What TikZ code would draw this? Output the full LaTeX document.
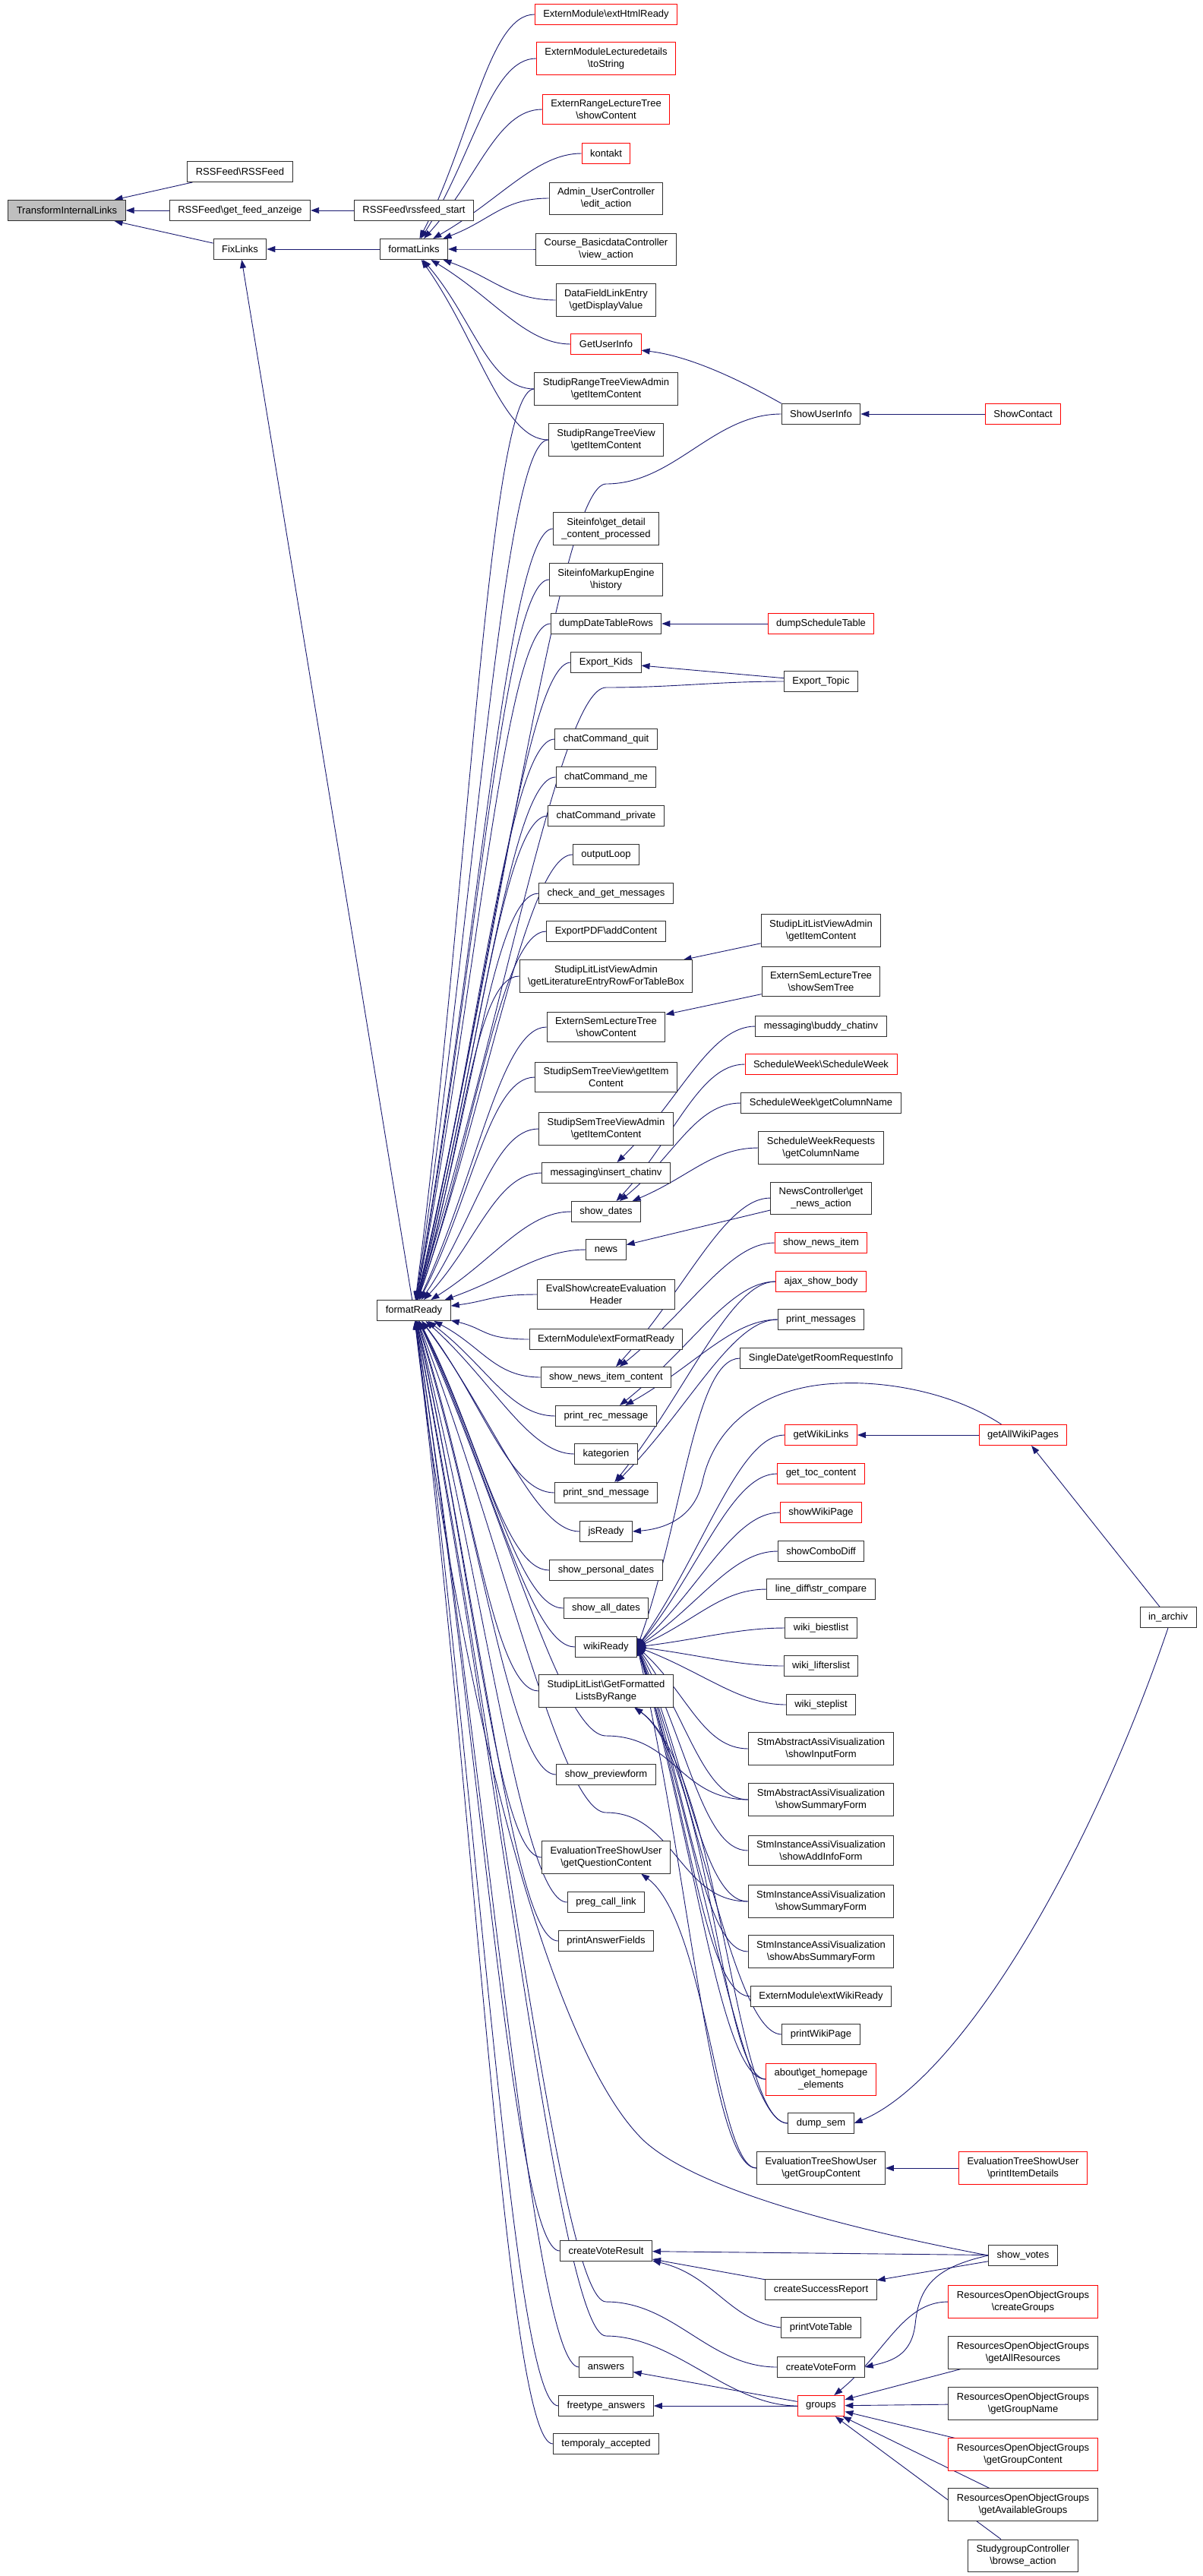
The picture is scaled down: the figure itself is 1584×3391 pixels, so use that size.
\documentclass[tikz,border=0pt]{standalone}
\usepackage{fontspec}
\setmainfont{Liberation Sans}
\usepackage{tikz}
\usetikzlibrary{arrows.meta, calc, backgrounds}
\definecolor{edgeblue}{RGB}{25, 25, 112}
\definecolor{boxgray}{RGB}{48, 48, 48}
\definecolor{rootgray}{RGB}{191, 191, 191}
\newcommand{\bs}{\textbackslash}
% caller -> callee, the arrow lands on the callee side facing the caller
\newcommand{\callto}[2]{%
  \draw[calledge] let \p1 = ($(#1.west)-(#2.center)$),
    \n1 = {int(mod(atan2(\y1,\x1)+360,360))} in
    (#1.west) .. controls +(-60,0) and ($(#2.\n1)!0.45!(#1.west)$) .. (#2.\n1);}
\newcommand{\calltoeast}[2]{%
  \draw[calledge] (#1.west) .. controls +(-60,0) and ($(#2.east)!0.45!(#1.west)$) .. (#2.east);}
% same, passing a gap of the rank in between
\newcommand{\callvia}[3]{%
  \draw[calledge] let \p1 = ($(#3)-(#2.center)$),
    \n1 = {int(mod(atan2(\y1,\x1)+360,360))} in
    (#1.west) .. controls +(-90,0) and +(90,0) .. (#3)
    .. controls +(-60,0) and ($(#2.\n1)!0.45!(#3)$) .. (#2.\n1);}

\begin{document}
\begin{tikzpicture}[x=1pt, y=1pt, >={Triangle[length=11pt,width=8pt]},
  fn/.style={draw=boxgray, fill=white, line width=1pt, align=center,
    font=\fontsize{13}{16}\selectfont, inner xsep=11pt, inner ysep=7pt,
    minimum height=27pt},
  fnroot/.style={fn, fill=rootgray},
  calledge/.style={->, draw=edgeblue, line width=0.9pt}]
  \useasboundingbox (0,0) rectangle (1584,-3391);

  \node[fnroot] (til) at (88,-277) {TransformInternalLinks};
  \node[fn] (rssfeed) at (316,-226) {RSSFeed\bs RSSFeed};
  \node[fn] (getfeed) at (316,-277) {RSSFeed\bs get\_feed\_anzeige};
  \node[fn] (fixlinks) at (316,-328) {FixLinks};
  \node[fn] (rssstart) at (545,-277) {RSSFeed\bs rssfeed\_start};
  \node[fn] (fl) at (545,-328) {formatLinks};
  \node[fn] (fr) at (545,-1725) {formatReady};

  \foreach \nm/\bc/\yy/\tx in {
    extHtml/red/19/{ExternModule\bs extHtmlReady},
    toString/red/77/{ExternModuleLecturedetails\\\bs toString},
    erltShow/red/144/{ExternRangeLectureTree\\\bs showContent},
    kontakt/red/202/{kontakt},
    adminEdit/boxgray/261/{Admin\_UserController\\\bs edit\_action},
    courseView/boxgray/328/{Course\_BasicdataController\\\bs view\_action},
    dfle/boxgray/395/{DataFieldLinkEntry\\\bs getDisplayValue},
    getUserInfo/red/453/{GetUserInfo},
    srtvAdmin/boxgray/512/{StudipRangeTreeViewAdmin\\\bs getItemContent},
    srtv/boxgray/579/{StudipRangeTreeView\\\bs getItemContent},
    siteinfo/boxgray/696/{Siteinfo\bs get\_detail\\\_content\_processed},
    sme/boxgray/763/{SiteinfoMarkupEngine\\\bs history},
    dumpRows/boxgray/821/{dumpDateTableRows},
    exportKids/boxgray/872/{Export\_Kids},
    chatQuit/boxgray/973/{chatCommand\_quit},
    chatMe/boxgray/1023/{chatCommand\_me},
    chatPrivate/boxgray/1074/{chatCommand\_private},
    outputLoop/boxgray/1125/{outputLoop},
    checkMsg/boxgray/1176/{check\_and\_get\_messages},
    pdfAdd/boxgray/1226/{ExportPDF\bs addContent},
    sllvaRow/boxgray/1285/{StudipLitListViewAdmin\\\bs getLiteratureEntryRowForTableBox},
    esltShow/boxgray/1352/{ExternSemLectureTree\\\bs showContent},
    sstvItem/boxgray/1418/{StudipSemTreeView\bs getItem\\Content},
    sstvAdmin/boxgray/1486/{StudipSemTreeViewAdmin\\\bs getItemContent},
    insertChat/boxgray/1544/{messaging\bs insert\_chatinv},
    showDates/boxgray/1595/{show\_dates},
    news/boxgray/1645/{news},
    evalHeader/boxgray/1704/{EvalShow\bs createEvaluation\\Header},
    extFormat/boxgray/1763/{ExternModule\bs extFormatReady},
    newsContent/boxgray/1813/{show\_news\_item\_content},
    printRec/boxgray/1864/{print\_rec\_message},
    kategorien/boxgray/1914/{kategorien},
    printSnd/boxgray/1965/{print\_snd\_message},
    jsReady/boxgray/2016/{jsReady},
    personalDates/boxgray/2067/{show\_personal\_dates},
    allDates/boxgray/2117/{show\_all\_dates},
    wikiReady/boxgray/2168/{wikiReady},
    litRange/boxgray/2226/{StudipLitList\bs GetFormatted\\ListsByRange},
    previewForm/boxgray/2336/{show\_previewform},
    questionContent/boxgray/2445/{EvaluationTreeShowUser\\\bs getQuestionContent},
    pregLink/boxgray/2504/{preg\_call\_link},
    answerFields/boxgray/2555/{printAnswerFields},
    voteResult/boxgray/2963/{createVoteResult},
    answers/boxgray/3116/{answers},
    freetype/boxgray/3167/{freetype\_answers},
    temporaly/boxgray/3217/{temporaly\_accepted}}
    \node[fn, draw=\bc] (\nm) at (798,-\yy) {\tx};

  \foreach \nm/\bc/\yy/\tx in {
    showUserInfo/boxgray/545/{ShowUserInfo},
    dumpSchedule/red/821/{dumpScheduleTable},
    exportTopic/boxgray/897/{Export\_Topic},
    sllvaItem/boxgray/1225/{StudipLitListViewAdmin\\\bs getItemContent},
    esltSemTree/boxgray/1292/{ExternSemLectureTree\\\bs showSemTree},
    buddyChat/boxgray/1351/{messaging\bs buddy\_chatinv},
    swSchedule/red/1401/{ScheduleWeek\bs ScheduleWeek},
    swColumn/boxgray/1452/{ScheduleWeek\bs getColumnName},
    swrColumn/boxgray/1511/{ScheduleWeekRequests\\\bs getColumnName},
    newsAction/boxgray/1577/{NewsController\bs get\\\_news\_action},
    showNewsItem/red/1636/{show\_news\_item},
    ajaxBody/red/1687/{ajax\_show\_body},
    printMsgs/boxgray/1737/{print\_messages},
    roomRequest/boxgray/1788/{SingleDate\bs getRoomRequestInfo},
    wikiLinks/red/1889/{getWikiLinks},
    tocContent/red/1940/{get\_toc\_content},
    showWikiPage/red/1991/{showWikiPage},
    comboDiff/boxgray/2042/{showComboDiff},
    strCompare/boxgray/2092/{line\_diff\bs str\_compare},
    biestlist/boxgray/2143/{wiki\_biestlist},
    lifterslist/boxgray/2193/{wiki\_lifterslist},
    steplist/boxgray/2244/{wiki\_steplist},
    saInput/boxgray/2302/{StmAbstractAssiVisualization\\\bs showInputForm},
    saSummary/boxgray/2369/{StmAbstractAssiVisualization\\\bs showSummaryForm},
    siAddInfo/boxgray/2436/{StmInstanceAssiVisualization\\\bs showAddInfoForm},
    siSummary/boxgray/2503/{StmInstanceAssiVisualization\\\bs showSummaryForm},
    siAbsSummary/boxgray/2569/{StmInstanceAssiVisualization\\\bs showAbsSummaryForm},
    extWiki/boxgray/2628/{ExternModule\bs extWikiReady},
    printWiki/boxgray/2678/{printWikiPage},
    homepage/red/2737/{about\bs get\_homepage\\\_elements},
    dumpSem/boxgray/2795/{dump\_sem},
    groupContent/boxgray/2854/{EvaluationTreeShowUser\\\bs getGroupContent},
    successReport/boxgray/3014/{createSuccessReport},
    voteTable/boxgray/3064/{printVoteTable},
    voteForm/boxgray/3116/{createVoteForm},
    groups/red/3167/{groups}}
    \node[fn, draw=\bc] (\nm) at (1081,-\yy) {\tx};

  \foreach \nm/\bc/\yy/\tx in {
    showContact/red/545/{ShowContact},
    allWikiPages/red/1889/{getAllWikiPages},
    printDetails/red/2854/{EvaluationTreeShowUser\\\bs printItemDetails},
    showVotes/boxgray/2969/{show\_votes},
    roCreate/red/3030/{ResourcesOpenObjectGroups\\\bs createGroups},
    roAll/boxgray/3097/{ResourcesOpenObjectGroups\\\bs getAllResources},
    roName/boxgray/3164/{ResourcesOpenObjectGroups\\\bs getGroupName},
    roContent/red/3231/{ResourcesOpenObjectGroups\\\bs getGroupContent},
    roAvailable/boxgray/3297/{ResourcesOpenObjectGroups\\\bs getAvailableGroups},
    sgBrowse/boxgray/3364/{StudygroupController\\\bs browse\_action}}
    \node[fn, draw=\bc] (\nm) at (1347,-\yy) {\tx};

  \node[fn] (inArchiv) at (1538,-2129) {in\_archiv};

  \coordinate (viaUser) at (798,-637);
  \coordinate (viaTopic) at (798,-905);
  \coordinate (viaSaSum) at (798,-2285);
  \coordinate (viaSiSum) at (798,-2386);
  \coordinate (viaForm) at (798,-3030);
  \coordinate (viaGroups) at (798,-3075);

  \begin{pgfonlayer}{background}
    \draw[calledge] (rssfeed) -- (til);
    \draw[calledge] (getfeed) -- (til);
    \draw[calledge] (fixlinks) -- (til);
    \draw[calledge] (rssstart) -- (getfeed);
    \draw[calledge] (fl) -- (fixlinks);
    \draw[calledge] (fr) -- (fixlinks);

    \foreach \c in {extHtml, toString, erltShow, kontakt, adminEdit, courseView,
      dfle, getUserInfo, srtvAdmin, srtv}
      \callto{\c}{fl};

    \foreach \c in {srtvAdmin, srtv, siteinfo, sme, dumpRows, exportKids, chatQuit,
      chatMe, chatPrivate, outputLoop, checkMsg, pdfAdd, sllvaRow, esltShow,
      sstvItem, sstvAdmin, insertChat, showDates, news, evalHeader, extFormat,
      newsContent, printRec, kategorien, printSnd, jsReady, personalDates,
      allDates, wikiReady, litRange, previewForm, questionContent, pregLink,
      answerFields, voteResult, answers, freetype, temporaly}
      \callto{\c}{fr};

    \callvia{showUserInfo}{fr}{viaUser}
    \callvia{exportTopic}{fr}{viaTopic}
    \callvia{saSummary}{fr}{viaSaSum}
    \callvia{siSummary}{fr}{viaSiSum}
    \callvia{voteForm}{fr}{viaForm}
    \callvia{groups}{fr}{viaGroups}
    \draw[calledge] (showVotes.west) .. controls (1150,-2940) and (930,-2890) .. (850,-2820)
      .. controls (720,-2700) and (600,-2200) .. (fr.275);

    \foreach \c in {roomRequest, wikiLinks, tocContent, showWikiPage, comboDiff,
      strCompare, biestlist, lifterslist, steplist, saInput, saSummary, siAddInfo,
      siSummary, siAbsSummary, extWiki, printWiki, homepage, dumpSem, groupContent}
      \calltoeast{\c}{wikiReady};

    \draw[calledge] (showContact) -- (showUserInfo);
    \draw[calledge] (showUserInfo.north west) .. controls (1000,-515) and (920,-470) .. (getUserInfo.350);
    \draw[calledge] (dumpSchedule) -- (dumpRows);
    \draw[calledge] (exportTopic) -- (exportKids);
    \draw[calledge] (sllvaItem) -- (sllvaRow);
    \draw[calledge] (esltSemTree) -- (esltShow);
    \callto{buddyChat}{insertChat}
    \foreach \c in {swSchedule, swColumn, swrColumn}
      \callto{\c}{showDates};
    \draw[calledge] (newsAction) -- (news);
    \foreach \c in {newsAction, showNewsItem}
      \callto{\c}{newsContent};
    \foreach \c in {ajaxBody, printMsgs} {
      \callto{\c}{printRec}
      \callto{\c}{printSnd}
    }
    \draw[calledge] (homepage.west) .. controls (950,-2737) and (935,-2320) .. (litRange.330);
    \draw[calledge] (dumpSem.west) .. controls (965,-2795) and (950,-2330) .. (litRange.330);
    \draw[calledge] (groupContent.west) .. controls (945,-2854) and (930,-2530) .. (questionContent.335);

    \draw[calledge] (allWikiPages) -- (wikiLinks);
    \draw[calledge] ($(allWikiPages.north west)+(30,0)$) .. controls (1250,-1830) and (1160,-1818) .. (1104,-1821)
      .. controls (1000,-1825) and (940,-1880) .. (925,-1950)
      .. controls (915,-1995) and (880,-2012) .. (jsReady.east);
    \draw[calledge] (inArchiv) -- (allWikiPages);
    \draw[calledge] (inArchiv.south) .. controls (1430,-2460) and (1260,-2740) .. (dumpSem.east);
    \draw[calledge] (printDetails) -- (groupContent);

    \draw[calledge] (showVotes) -- (voteResult);
    \draw[calledge] (showVotes) -- (successReport);
    \draw[calledge] (successReport) -- (voteResult);
    \draw[calledge] (voteTable.west) .. controls (960,-3055) and (940,-2995) .. (voteResult.348);
    \draw[calledge] (showVotes.west) .. controls (1230,-2985) and (1210,-3010) .. (1205,-3060)
      .. controls (1200,-3100) and (1175,-3108) .. (voteForm.east);
    \draw[calledge] (groups) -- (answers);
    \draw[calledge] (groups) -- (freetype);
    \callto{roCreate}{groups}
    \foreach \c in {roAll, roName, roContent, roAvailable, sgBrowse}
      \draw[calledge] (\c) -- (groups);
  \end{pgfonlayer}
\end{tikzpicture}
\end{document}
